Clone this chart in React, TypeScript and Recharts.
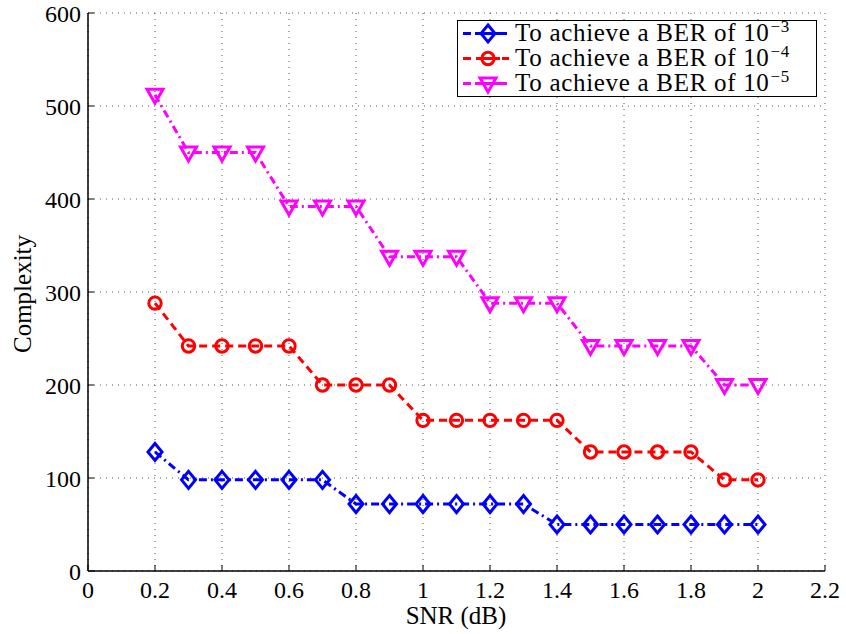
import React from 'react';
import { LineChart, Line, XAxis, YAxis, CartesianGrid, Legend, Label } from 'recharts';

const snr = [0.2, 0.3, 0.4, 0.5, 0.6, 0.7, 0.8, 0.9, 1.0, 1.1, 1.2, 1.3, 1.4, 1.5, 1.6, 1.7, 1.8, 1.9, 2.0];
const ber3 = [128, 98, 98, 98, 98, 98, 72, 72, 72, 72, 72, 72, 50, 50, 50, 50, 50, 50, 50];
const ber4 = [288, 242, 242, 242, 242, 200, 200, 200, 162, 162, 162, 162, 162, 128, 128, 128, 128, 98, 98];
const ber5 = [512, 450, 450, 450, 392, 392, 392, 338, 338, 338, 288, 288, 288, 242, 242, 242, 242, 200, 200];

const xTicks = [0, 0.2, 0.4, 0.6, 0.8, 1, 1.2, 1.4, 1.6, 1.8, 2, 2.2];
const yTicks = [0, 100, 200, 300, 400, 500, 600];

const data = snr.map((x, i) => ({ snr: x, ber3: ber3[i], ber4: ber4[i], ber5: ber5[i] }));

const FONT = '"Liberation Serif", "Times New Roman", serif';
const BLUE = '#0000ff';
const RED = '#ff0000';
const MAGENTA = '#ff00ff';

const Diamond = ({ cx, cy, color }: any) => (
  <path d={`M${cx},${cy - 8.5} L${cx + 7},${cy} L${cx},${cy + 8.5} L${cx - 7},${cy} Z`}
    fill="none" stroke={color} strokeWidth={3} />
);
const Circle = ({ cx, cy, color }: any) => (
  <circle cx={cx} cy={cy} r={6.2} fill="none" stroke={color} strokeWidth={3} />
);
const TriDown = ({ cx, cy, color }: any) => (
  <path d={`M${cx - 8},${cy - 5.5} L${cx + 8},${cy - 5.5} L${cx},${cy + 8.5} Z`}
    fill="none" stroke={color} strokeWidth={3} strokeLinejoin="miter" />
);

const series = [
  { key: 'ber3', color: BLUE, dash: '8 4 2 4', exp: '\u22123', Marker: Diamond },
  { key: 'ber4', color: RED, dash: '8 5', exp: '\u22124', Marker: Circle },
  { key: 'ber5', color: MAGENTA, dash: '8 4 2 4', exp: '\u22125', Marker: TriDown },
];

const LegendBox = () => (
  <div style={{
    border: '1.5px solid #000', background: '#fff', width: 358, height: 75,
    fontFamily: FONT, fontSize: 25, letterSpacing: 0.7, color: '#000', boxSizing: 'content-box',
  }}>
    {series.map((s) => (
      <div key={s.key} style={{ height: 25, display: 'flex', alignItems: 'center', whiteSpace: 'nowrap' }}>
        <svg width={57} height={25} style={{ flex: 'none' }}>
          <line x1={5} y1={12.5} x2={51} y2={12.5} stroke={s.color} strokeWidth={3} strokeDasharray={s.dash} />
          <line x1={18} y1={12.5} x2={42} y2={12.5} stroke={s.color} strokeWidth={3} />
          <s.Marker cx={30} cy={12.5} color={s.color} />
        </svg>
        <span style={{ lineHeight: '25px' }}>
          To achieve a BER of 10
          <span style={{ fontSize: 17, position: 'relative', top: -9, marginLeft: 1 }}>{s.exp}</span>
        </span>
      </div>
    ))}
  </div>
);

const tickStyle = { fontFamily: FONT, fontSize: 24, fill: '#000' };

export default function App() {
  return (
    <div style={{ position: 'fixed', left: 0, top: 0, background: '#fff' }}>
      <LineChart width={846} height={634} data={data} margin={{ top: 13, right: 21, bottom: 0, left: 0 }}>
        <CartesianGrid stroke="#555" strokeDasharray="1 5" strokeWidth={1} />
        <XAxis dataKey="snr" type="number" domain={[0, 2.2]} ticks={xTicks} interval={0}
          height={63} tickSize={-6} tickMargin={16} tick={tickStyle}
          axisLine={{ stroke: '#000', strokeWidth: 1.5 }} tickLine={{ stroke: '#000' }}>
          <Label content={() => (
            <text x={456} y={624} textAnchor="middle" fontFamily={FONT} fontSize={25} fill="#000">SNR (dB)</text>
          )} />
        </XAxis>
        <XAxis xAxisId="top" orientation="top" type="number" domain={[0, 2.2]} ticks={xTicks} interval={0}
          height={0} tickSize={-6} tickFormatter={() => ''}
          axisLine={{ stroke: '#000', strokeWidth: 1.5 }} tickLine={{ stroke: '#000' }} />
        <YAxis type="number" domain={[0, 600]} ticks={yTicks} interval={0} width={88}
          tickSize={-6} tickMargin={13} tick={tickStyle}
          axisLine={{ stroke: '#000', strokeWidth: 1.5 }} tickLine={{ stroke: '#000' }}>
          <Label content={() => (
            <text x={0} y={0} transform="translate(31,294) rotate(-90)" textAnchor="middle"
              fontFamily={FONT} fontSize={25} fill="#000">Complexity</text>
          )} />
        </YAxis>
        <YAxis yAxisId="right" orientation="right" type="number" domain={[0, 600]} ticks={yTicks} interval={0}
          width={0} tickSize={-6} tickFormatter={() => ''}
          axisLine={{ stroke: '#000', strokeWidth: 1.5 }} tickLine={{ stroke: '#000' }} />
        {series.map((s) => (
          <Line key={s.key} dataKey={s.key} type="linear" stroke={s.color} strokeWidth={3}
            strokeDasharray={s.dash} isAnimationActive={false}
            dot={(p: any) => <s.Marker key={`${s.key}-${p.index}`} cx={p.cx} cy={p.cy} color={s.color} />}
            activeDot={false} />
        ))}
        <Legend layout="vertical" align="center" verticalAlign="middle" content={() => <LegendBox />}
          wrapperStyle={{ position: 'absolute', left: 457, top: 20, width: 'auto', height: 'auto' }} />
      </LineChart>
    </div>
  );
}
